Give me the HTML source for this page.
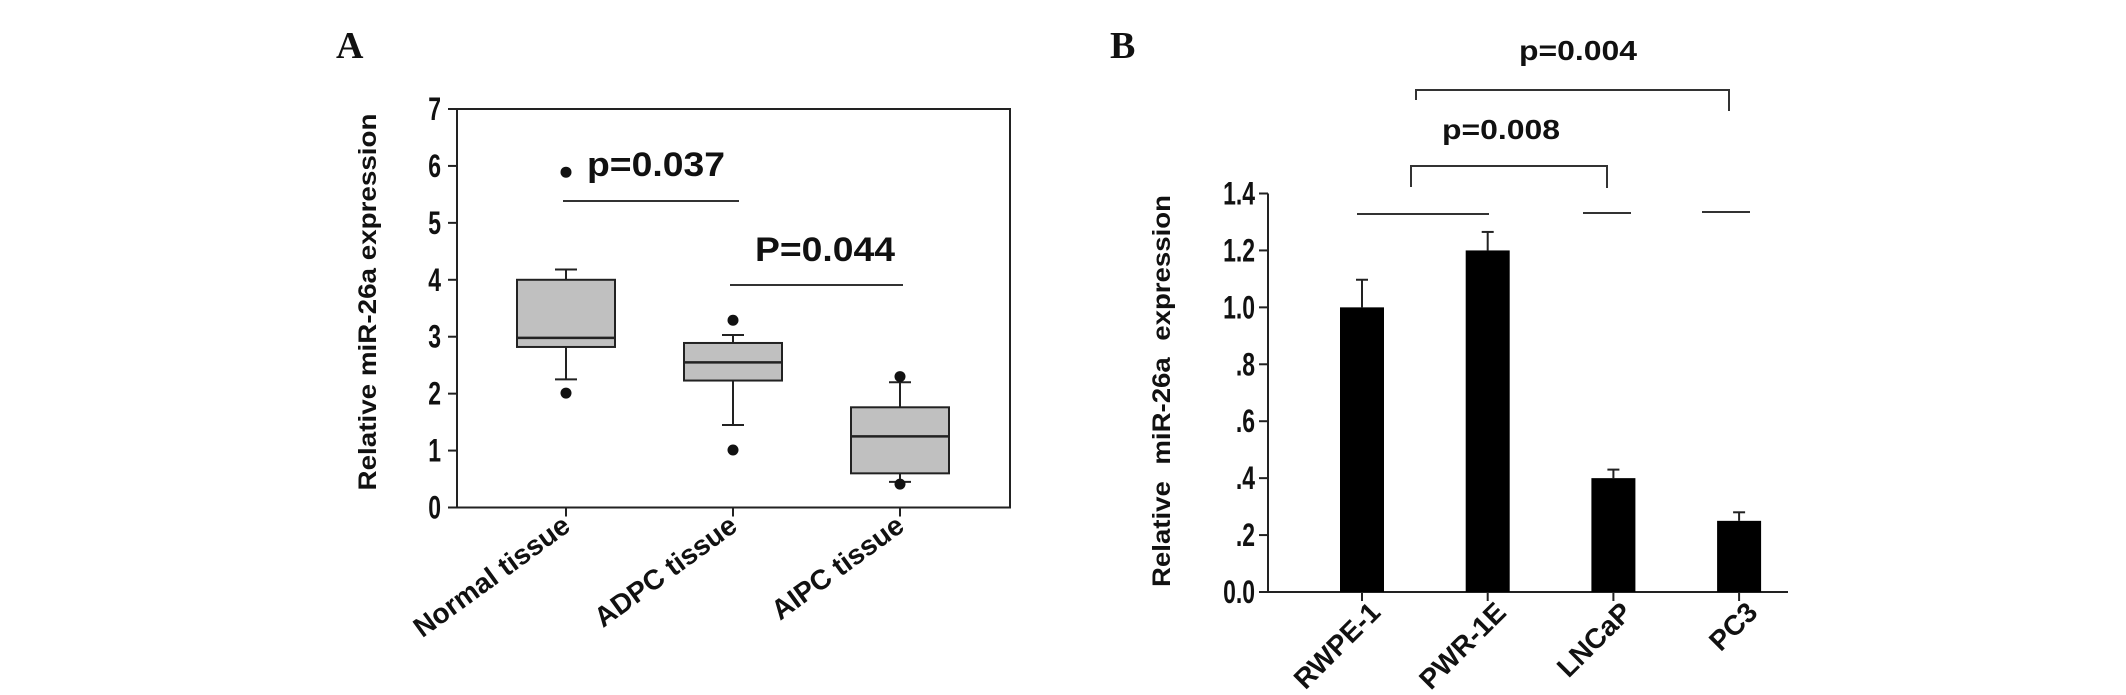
<!DOCTYPE html>
<html><head><meta charset="utf-8"><style>
html,body{margin:0;padding:0;background:#fff;}
svg{display:block;}
text{font-family:"Liberation Sans",Arial,sans-serif;fill:#111;}
</style></head><body>
<svg id="fig" width="2126" height="695" viewBox="0 0 2126 695" xmlns="http://www.w3.org/2000/svg">
<text x="336" y="58" style="font-family:'Liberation Serif',serif;font-weight:bold;font-size:38px">A</text>
<text x="1110" y="58" style="font-family:'Liberation Serif',serif;font-weight:bold;font-size:38px">B</text>
<g id="chartA"></g>
<g id="chartB"></g>
</svg>
<script>
// ---- Panel A data ----
const catsA = ["Normal tissue","ADPC tissue","AIPC tissue"];
const q1A = [2.82, 2.23, 0.60];
const medA = [2.98, 2.55, 1.25];
const q3A = [4.00, 2.89, 1.76];
const whiskLoA = [2.25, 1.45, 0.45];
const whiskHiA = [4.18, 3.03, 2.20];
const outlierLoA = [2.01, 1.01, 0.41];
const outlierHiA = [5.89, 3.29, 2.30];
const ticksA = [0,1,2,3,4,5,6,7];
// ---- Panel B data ----
const catsB = ["RWPE-1","PWR-1E","LNCaP","PC3"];
const valsB = [1.00, 1.20, 0.40, 0.25];
const errB = [0.097, 0.065, 0.03, 0.03];
const ticksB = [0,0.2,0.4,0.6,0.8,1.0,1.2,1.4];
const tickLabelsB = ["0.0",".2",".4",".6",".8","1.0","1.2","1.4"];

const NS="http://www.w3.org/2000/svg";
function mk(parent,tag,attrs,txt){const e=document.createElementNS(NS,tag);for(const k in attrs)e.setAttribute(k,attrs[k]);if(txt!==undefined)e.textContent=txt;parent.appendChild(e);return e;}

// Panel A
(function(){
const g=document.getElementById('chartA');
const L=457,R=1010,T=109,B=507.5;
const y=v=>B-(B-T)*v/7;
const x=i=>566+i*167;
let e=mk(g,'rect',{x:L,y:T,width:R-L,height:B-T,fill:'none',stroke:'#222','stroke-width':2});


ticksA.forEach(t=>{
 let l=mk(g,'line',{x1:L-9,x2:L,y1:y(t),y2:y(t),stroke:'#222','stroke-width':2});
 
 
 let tx=mk(g,'text',{transform:`translate(441,${y(t)+11}) scale(0.85,1.2)`,'text-anchor':'end','font-size':27,'font-weight':'bold'},String(t));
 
 
});
let yt=mk(g,'text',{transform:'translate(376,302) rotate(-90)','text-anchor':'middle','font-size':25,'font-weight':'bold',textLength:377,lengthAdjust:'spacingAndGlyphs'},'Relative miR-26a expression');


catsA.forEach((c,i)=>{
 const cx=x(i),hw=49;
 let tk=mk(g,'line',{x1:cx,x2:cx,y1:B,y2:B+9,stroke:'#222','stroke-width':2});
 
 
 let lb=mk(g,'text',{transform:`translate(${cx+6},${B+22}) rotate(-36)`,'text-anchor':'end','font-size':28,'font-weight':'bold'},c);
 
 
 let w1=mk(g,'line',{x1:cx,x2:cx,y1:y(whiskHiA[i]),y2:y(q3A[i]),stroke:'#222','stroke-width':2});
 
 
 let w2=mk(g,'line',{x1:cx,x2:cx,y1:y(q1A[i]),y2:y(whiskLoA[i]),stroke:'#222','stroke-width':2});
 
 
 let c1=mk(g,'line',{x1:cx-11,x2:cx+11,y1:y(whiskHiA[i]),y2:y(whiskHiA[i]),stroke:'#222','stroke-width':2});
 
 
 let c2=mk(g,'line',{x1:cx-11,x2:cx+11,y1:y(whiskLoA[i]),y2:y(whiskLoA[i]),stroke:'#222','stroke-width':2});
 
 
 let bx=mk(g,'rect',{x:cx-hw,y:y(q3A[i]),width:hw*2,height:y(q1A[i])-y(q3A[i]),fill:'#c0c0c0',stroke:'#222','stroke-width':2});
 
 
 let md=mk(g,'line',{x1:cx-hw,x2:cx+hw,y1:y(medA[i]),y2:y(medA[i]),stroke:'#222','stroke-width':2.5});
 
 
 let o1=mk(g,'circle',{cx:cx,cy:y(outlierLoA[i]),r:5.5,fill:'#111'});
 
 
 let o2=mk(g,'circle',{cx:cx,cy:y(outlierHiA[i]),r:5.5,fill:'#111'});
 
 
});
let s1=mk(g,'line',{x1:563,x2:739,y1:201,y2:201,stroke:'#333','stroke-width':2});


let p1=mk(g,'text',{x:587,y:176,'font-size':34,'font-weight':'bold',textLength:138,lengthAdjust:'spacingAndGlyphs'},'p=0.037');


let s2=mk(g,'line',{x1:730,x2:903,y1:285,y2:285,stroke:'#333','stroke-width':2});


let p2=mk(g,'text',{x:755,y:261,'font-size':34,'font-weight':'bold',textLength:140,lengthAdjust:'spacingAndGlyphs'},'P=0.044');


})();

// Panel B
(function(){
const g=document.getElementById('chartB');
const L=1268,R=1788,T=193.5,B=592;
const y=v=>B-(B-T)*v/1.4;
const x=i=>1362+i*125.7;
let ax=mk(g,'line',{x1:L,x2:L,y1:T,y2:B,stroke:'#222','stroke-width':2});


let bx=mk(g,'line',{x1:L-9,x2:R,y1:B,y2:B,stroke:'#222','stroke-width':2});


ticksB.forEach((t,i)=>{
 let l=mk(g,'line',{x1:L-9,x2:L,y1:y(t),y2:y(t),stroke:'#222','stroke-width':2});
 
 
 let tx=mk(g,'text',{transform:`translate(1255,${y(t)+11}) scale(0.85,1.2)`,'text-anchor':'end','font-size':27,'font-weight':'bold'},tickLabelsB[i]);
 
 
});
let yt=mk(g,'text',{transform:'translate(1170,391) rotate(-90)','text-anchor':'middle','font-size':25,'font-weight':'bold',textLength:392,lengthAdjust:'spacingAndGlyphs','word-spacing':8},'Relative miR-26a expression');


catsB.forEach((c,i)=>{
 const cx=x(i),hw=22;
 let tk=mk(g,'line',{x1:cx,x2:cx,y1:B,y2:B+9,stroke:'#222','stroke-width':2});
 
 
 let lb=mk(g,'text',{transform:`translate(${cx+20},${B+22}) rotate(-45)`,'text-anchor':'end','font-size':28,'font-weight':'bold'},c);
 
 
 let eb=mk(g,'line',{x1:cx,x2:cx,y1:y(valsB[i]+errB[i]),y2:y(valsB[i]),stroke:'#222','stroke-width':2});
 
 
 let ec=mk(g,'line',{x1:cx-6,x2:cx+6,y1:y(valsB[i]+errB[i]),y2:y(valsB[i]+errB[i]),stroke:'#222','stroke-width':2});
 
 
 let br=mk(g,'rect',{x:cx-hw,y:y(valsB[i]),width:hw*2,height:B-y(valsB[i]),fill:'#000'});
 
 
});
const st={stroke:'#333','stroke-width':2,fill:'none'};
let a=mk(g,'line',Object.assign({x1:1357,x2:1489,y1:214,y2:214},st));


let b=mk(g,'line',Object.assign({x1:1583,x2:1631,y1:213,y2:213},st));


let c=mk(g,'line',Object.assign({x1:1702,x2:1750,y1:212,y2:212},st));


let br1=mk(g,'polyline',Object.assign({points:'1411,187 1411,166 1607,166 1607,188'},st));


let p1=mk(g,'text',{x:1442,y:139,'font-size':28,'font-weight':'bold',textLength:118,lengthAdjust:'spacingAndGlyphs'},'p=0.008');


let br2=mk(g,'polyline',Object.assign({points:'1416,100 1416,90 1729,90 1729,111'},st));


let p2=mk(g,'text',{x:1519,y:60,'font-size':28,'font-weight':'bold',textLength:118,lengthAdjust:'spacingAndGlyphs'},'p=0.004');


})();
</script>
</body></html>
